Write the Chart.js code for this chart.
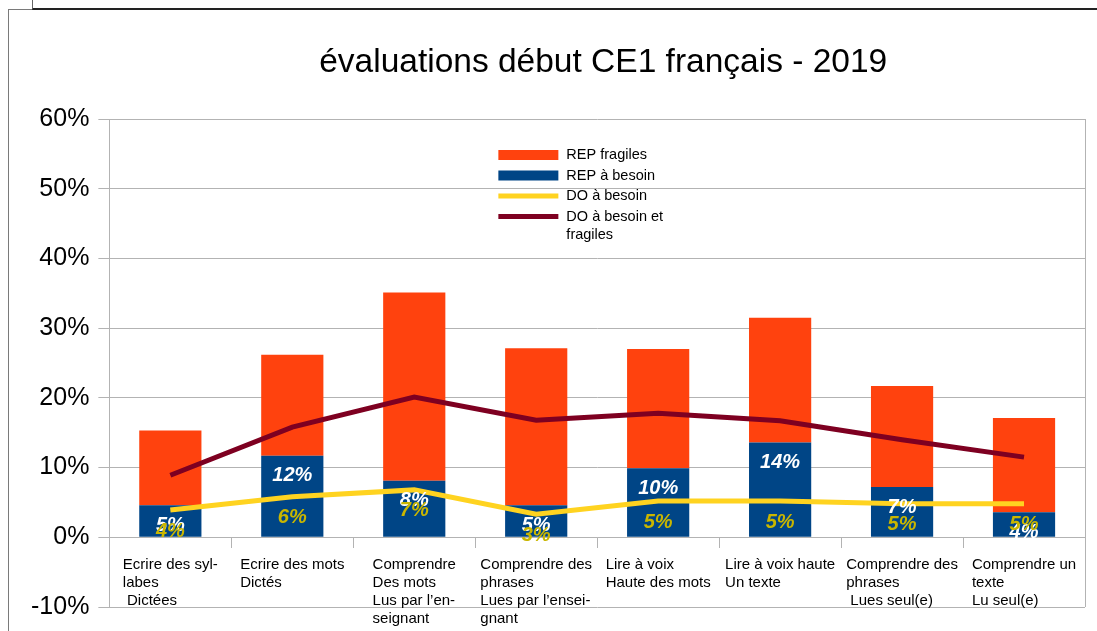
<!DOCTYPE html>
<html><head><meta charset="utf-8">
<script src="https://cdn.jsdelivr.net/npm/chart.js@4/dist/chart.umd.min.js"></script>
<style>
html,body{margin:0;padding:0;background:#fff;}
#wrap{position:relative;width:1097px;height:631px;overflow:hidden;background:#fff;}
#frameB{position:absolute;left:8px;top:9px;width:2000px;height:1000px;border-left:1.5px solid #7a7a7a;border-top:1.5px solid #7a7a7a;}
#frameA{position:absolute;left:32px;top:-3px;width:2000px;height:11px;border-left:1.5px solid #666;border-bottom:2px solid #222;}
canvas{position:absolute;left:0;top:0;}
</style></head>
<body>
<div id="wrap">
<div id="frameB"></div>
<div id="frameA"></div>
<canvas id="c" width="1097" height="631"></canvas>
</div>
<script>
const titleText = "évaluations début CE1 français - 2019";
const categories = [
  ["Ecrire des syl-", "labes", " Dictées"],
  ["Ecrire des mots", "Dictés"],
  ["Comprendre", "Des mots", "Lus par l’en-", "seignant"],
  ["Comprendre des", "phrases", "Lues par l’ensei-", "gnant"],
  ["Lire à voix", "Haute des mots"],
  ["Lire à voix haute", "Un texte"],
  ["Comprendre des", "phrases", " Lues seul(e)"],
  ["Comprendre un", "texte", "Lu seul(e)"]
];
const repBesoin = [4.6, 11.7, 8.1, 4.6, 9.9, 13.6, 7.2, 3.6];
const repFragiles = [10.7, 14.5, 27.0, 22.5, 17.1, 17.9, 14.5, 13.5];
const doBesoin = [3.9, 5.8, 6.8, 3.3, 5.2, 5.2, 4.8, 4.8];
const doBesoinFragiles = [8.9, 15.8, 20.1, 16.8, 17.8, 16.7, 14.0, 11.5];
const yMin = -10, yMax = 60, yStep = 10;
const seriesNames = ["REP fragiles", "REP à besoin", "DO à besoin", "DO à besoin et fragiles"];

const FONT = '"Liberation Sans", Arial, sans-serif';
const C_BLUE = '#004586', C_ORANGE = '#ff420e', C_YELLOW = '#ffd320', C_RED = '#7e0021';

const drawPlugin = {
  id: 'drawPlugin',
  afterDraw(chart) {
    const ctx = chart.ctx;
    const ca = chart.chartArea;
    const xs = chart.scales.x, ys = chart.scales.y;
    ctx.save();
    // plot right border
    ctx.strokeStyle = '#b3b3b3';
    ctx.lineWidth = 1;
    ctx.beginPath();
    ctx.moveTo(Math.round(ca.right) + 0.5, ca.top);
    ctx.lineTo(Math.round(ca.right) + 0.5, ca.bottom);
    ctx.stroke();

    // title
    ctx.fillStyle = '#000';
    ctx.font = '33.5px ' + FONT;
    ctx.textAlign = 'center';
    ctx.textBaseline = 'alphabetic';
    ctx.fillText(titleText, (ca.left + ca.right) / 2 + 6, 72);

    // category labels
    ctx.font = '15px ' + FONT;
    ctx.textAlign = 'left';
    ctx.textBaseline = 'middle';
    const zeroY = ys.getPixelForValue(0);
    categories.forEach((lines, i) => {
      const cx = xs.getPixelForValue(i);
      let mw = 0;
      lines.forEach(l => { mw = Math.max(mw, ctx.measureText(l).width); });
      lines.forEach((l, k) => {
        ctx.fillText(l, cx - mw / 2, zeroY + 28 + k * 18);
      });
    });

    // data labels
    ctx.font = 'italic bold 20px ' + FONT;
    ctx.textAlign = 'center';
    ctx.textBaseline = 'middle';
    const mBlue = chart.getDatasetMeta(0);
    ctx.fillStyle = '#ffffff';
    mBlue.data.forEach((el, i) => {
      ctx.fillText(Math.round(repBesoin[i]) + '%', el.x, el.y + 20);
    });
    const mYellow = chart.getDatasetMeta(2);
    ctx.fillStyle = '#c9b600';
    mYellow.data.forEach((el, i) => {
      ctx.fillText(Math.round(doBesoin[i]) + '%', el.x, el.y + 21);
    });

    // legend
    const lx = ca.left + 389, ly0 = ca.top + 36;
    ctx.font = '14.5px ' + FONT;
    ctx.textAlign = 'left';
    ctx.textBaseline = 'middle';
    const legendOrder = [1, 0, 2, 3];
    let ly = ly0;
    legendOrder.forEach((di) => {
      const ds = chart.data.datasets[di];
      const isBar = ds.type === 'bar';
      if (isBar) {
        ctx.fillStyle = ds.backgroundColor;
        ctx.fillRect(lx, ly - 5, 60, 10);
      } else {
        ctx.fillStyle = ds.borderColor;
        ctx.fillRect(lx, ly - 2.5, 60, 5);
      }
      const words = ds.label.split(' ');
      const lines = [];
      let cur = '';
      words.forEach(w => {
        const t = cur ? cur + ' ' + w : w;
        if (ctx.measureText(t).width > 100 && cur) { lines.push(cur); cur = w; } else cur = t;
      });
      lines.push(cur);
      ctx.fillStyle = '#000';
      lines.forEach((l, k) => ctx.fillText(l, lx + 68, ly + k * 18));
      ly += 20.5 + (lines.length - 1) * 18;
    });
    ctx.restore();
  }
};

new Chart(document.getElementById('c'), {
  data: {
    labels: categories.map(c => c.join(' ')),
    datasets: [
      { type: 'bar', label: seriesNames[1], data: repBesoin, backgroundColor: C_BLUE, stack: 'bars', order: 2,
        categoryPercentage: 0.51, barPercentage: 1 },
      { type: 'bar', label: seriesNames[0], data: repFragiles, backgroundColor: C_ORANGE, stack: 'bars', order: 2,
        categoryPercentage: 0.51, barPercentage: 1 },
      { type: 'line', label: seriesNames[2], data: doBesoin, borderColor: C_YELLOW, backgroundColor: C_YELLOW,
        borderWidth: 5, pointRadius: 0, tension: 0, stack: 'l1', order: 1, borderCapStyle: 'butt' },
      { type: 'line', label: seriesNames[3], data: doBesoinFragiles, borderColor: C_RED, backgroundColor: C_RED,
        borderWidth: 5, pointRadius: 0, tension: 0, stack: 'l2', order: 0, borderCapStyle: 'butt' }
    ]
  },
  options: {
    responsive: false,
    animation: false,
    layout: { padding: { left: 22, right: 12, top: 119, bottom: 24 } },
    plugins: { legend: { display: false }, title: { display: false }, tooltip: { enabled: false } },
    scales: {
      x: {
        type: 'category', stacked: true, offset: true, position: { y: 0 },
        grid: { offset: true, drawOnChartArea: false, drawTicks: true, tickLength: 10, color: '#b3b3b3' },
        border: { display: true, color: '#b3b3b3' },
        ticks: { display: false }
      },
      y: {
        stacked: true, min: yMin, max: yMax,
        ticks: { stepSize: yStep, callback: v => v + '%', color: '#000', font: { family: FONT, size: 25 }, padding: 9 },
        grid: { color: '#b3b3b3', tickLength: 11 },
        border: { color: '#b3b3b3' }
      }
    }
  },
  plugins: [drawPlugin]
});
</script>
</body></html>
